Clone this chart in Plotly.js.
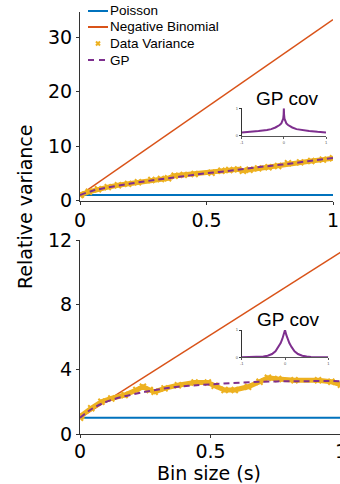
<!DOCTYPE html>
<html>
<head>
<meta charset="utf-8">
<script src="https://cdn.plot.ly/plotly-3.0.1.min.js"></script>
<style>
html,body{margin:0;padding:0;overflow:hidden;background:#fff;width:340px;height:484px;}
#chart{width:350px;height:484px;}
</style>
</head>
<body>
<div id="chart"></div>
<script>
// ---- data ----
const seriesNames = ["Poisson", "Negative Binomial", "Data Variance", "GP"];
const xTicks = [0, 0.5, 1];
const xTickText = ["0", "0.5", "1"];
const topYTicks = [0, 10, 20, 30];
const botYTicks = [0, 4, 8, 12];

const lineX = [0, 1];
const poissonY = [1, 1];
const topNegBinY = [1, 33.2];
const botNegBinY = [1, 11.26];

const topDataX = [0, 0.004, 0.035, 0.071, 0.11, 0.15, 0.19, 0.229, 0.282, 0.32, 0.348, 0.374, 0.41, 0.453, 0.52, 0.559, 0.59, 0.625, 0.644, 0.67, 0.704, 0.745, 0.783, 0.822, 0.87, 0.914, 0.96, 1.0];
const topDataY = [1.0, 1.1, 1.6, 2.05, 2.45, 2.79, 3.05, 3.34, 3.76, 3.95, 4.07, 4.55, 4.7, 4.86, 5.1, 5.47, 5.6, 5.72, 5.47, 5.65, 5.9, 6.1, 6.33, 6.83, 7.0, 7.25, 7.5, 7.74];
const topGPX = [0, 0.05, 0.1, 0.2, 0.3, 0.4, 0.5, 0.6, 0.7, 0.8, 0.9, 1.0];
const topGPY = [1.0, 1.8, 2.3, 3.1, 3.8, 4.4, 5.0, 5.5, 6.1, 6.6, 7.2, 7.8];

const botDataX = [0, 0.005, 0.043, 0.082, 0.12, 0.171, 0.216, 0.241, 0.267, 0.286, 0.324, 0.375, 0.439, 0.49, 0.516, 0.554, 0.593, 0.644, 0.688, 0.72, 0.759, 0.822, 0.912, 0.963, 1.0];
const botDataY = [1.0, 1.13, 1.59, 2.0, 2.2, 2.41, 2.72, 2.92, 2.72, 2.61, 2.82, 3.02, 3.19, 3.19, 2.98, 2.72, 2.72, 2.92, 3.23, 3.48, 3.4, 3.33, 3.33, 3.23, 3.05];
const botGPX = [0, 0.05, 0.12, 0.25, 0.375, 0.5, 0.69, 0.88, 1.0];
const botGPY = [1.0, 1.6, 2.1, 2.61, 2.92, 3.07, 3.23, 3.27, 3.27];

const topCovTau = [-1, -0.8, -0.6, -0.4, -0.3, -0.2, -0.15, -0.1, -0.06, -0.03, -0.015, -0.005, 0, 0.005, 0.015, 0.03, 0.06, 0.1, 0.15, 0.2, 0.3, 0.4, 0.6, 0.8, 1];
const topCov = [0.12, 0.14, 0.17, 0.21, 0.24, 0.3, 0.34, 0.39, 0.45, 0.53, 0.62, 0.78, 1.0, 0.78, 0.62, 0.53, 0.45, 0.39, 0.34, 0.3, 0.24, 0.21, 0.17, 0.14, 0.12];
const botCovTau = [-1, -0.8, -0.6, -0.5, -0.4, -0.3, -0.22, -0.15, -0.1, -0.06, -0.03, 0, 0.03, 0.06, 0.1, 0.15, 0.22, 0.3, 0.4, 0.5, 0.6, 0.8, 1];
const botCov = [0.0, 0.002, 0.01, 0.03, 0.06, 0.12, 0.22, 0.38, 0.52, 0.68, 0.82, 1.0, 0.82, 0.68, 0.52, 0.38, 0.22, 0.12, 0.06, 0.03, 0.01, 0.002, 0.0];
const covTicks = [-1, 0, 1];
const covTickText = ["-1", "0", "1"];

// ---- styling ----
const W = 350, H = 484;
const px = x => x / W;
const py = y => 1 - y / H;
const BLUE = "#0072BD", ORANGE = "#D95319", YELLOW = "#EDB120", PURPLE = "#7E2F8E";
const TICKFONT = {family: "DejaVu Sans", size: 19, color: "#000"};
const LEGFONT = {family: "Liberation Sans, Arial, sans-serif", size: 13.5, color: "#000"};

function panelTraces(xa, ya, nb, dx, dy, gx, gy) {
  return [
    {x: lineX, y: poissonY, xaxis: xa, yaxis: ya, mode: "lines", name: seriesNames[0], line: {color: BLUE, width: 2}, showlegend: false},
    {x: lineX, y: nb, xaxis: xa, yaxis: ya, mode: "lines", name: seriesNames[1], line: {color: ORANGE, width: 1.5}, showlegend: false},
    {x: dx, y: dy, xaxis: xa, yaxis: ya, mode: "lines+markers", name: seriesNames[2], line: {color: YELLOW, width: 5},
     marker: {symbol: "x-thin", size: 6, color: YELLOW, line: {color: YELLOW, width: 2}}, showlegend: false},
    {x: gx, y: gy, xaxis: xa, yaxis: ya, mode: "lines", name: seriesNames[3], line: {color: PURPLE, width: 2, dash: "6px,4px", shape: "spline"}, showlegend: false}
  ];
}

const traces = [].concat(
  panelTraces("x", "y", topNegBinY, topDataX, topDataY, topGPX, topGPY),
  panelTraces("x2", "y2", botNegBinY, botDataX, botDataY, botGPX, botGPY),
  [
    {x: topCovTau, y: topCov, xaxis: "x3", yaxis: "y3", mode: "lines", name: "GP cov", line: {color: PURPLE, width: 2}, showlegend: false},
    {x: botCovTau, y: botCov, xaxis: "x4", yaxis: "y4", mode: "lines", name: "GP cov", line: {color: PURPLE, width: 2}, showlegend: false}
  ]
);

const mainX = {
  range: [0, 1], tickvals: xTicks, ticktext: xTickText, ticks: "outside", ticklen: 3, tickcolor: "#333",
  showline: true, linecolor: "#333", linewidth: 1, showgrid: false, zeroline: false, tickfont: TICKFONT, fixedrange: true
};
const mainY = {
  ticks: "outside", ticklen: 3, tickcolor: "#333",
  showline: true, linecolor: "#333", linewidth: 1, showgrid: false, zeroline: false, tickfont: TICKFONT, fixedrange: true
};
const insetX = {
  range: [-1, 1], tickvals: covTicks, ticktext: covTickText, ticks: "outside", ticklen: 2, tickcolor: "#555",
  showline: true, linecolor: "#555", linewidth: 1, showgrid: false, zeroline: false,
  tickfont: {family: "Liberation Sans", size: 4, color: "#555"}
};
const insetY = {
  range: [0, 1.0], tickvals: [0, 1], ticktext: ["0", "1"], ticks: "outside", ticklen: 2, tickcolor: "#333",
  showline: true, linecolor: "#333", linewidth: 1, showgrid: false, zeroline: false,
  tickfont: {family: "Liberation Sans", size: 4, color: "#555"}
};

const layout = {
  width: W, height: H,
  margin: {l: 0, r: 0, t: 0, b: 0},
  paper_bgcolor: "#fff", plot_bgcolor: "rgba(0,0,0,0)",
  showlegend: false,
  xaxis: Object.assign({}, mainX, {domain: [px(80), px(333)], anchor: "y"}),
  yaxis: Object.assign({}, mainY, {domain: [py(200.5), py(12)], range: [0, 34.6], tickvals: topYTicks, anchor: "x"}),
  xaxis2: Object.assign({}, mainX, {domain: [px(80), px(341)], anchor: "y2", ticklabelstandoff: -3}),
  yaxis2: Object.assign({}, mainY, {domain: [py(434), py(240)], range: [0, 12], tickvals: botYTicks, anchor: "x2"}),
  xaxis3: Object.assign({}, insetX, {domain: [px(241.7), px(326)], anchor: "y3"}),
  yaxis3: Object.assign({}, insetY, {domain: [py(135.7), py(108.3)], anchor: "x3"}),
  xaxis4: Object.assign({}, insetX, {domain: [px(241.7), px(328.3)], anchor: "y4"}),
  yaxis4: Object.assign({}, insetY, {domain: [py(357.3), py(330)], anchor: "x4"}),
  annotations: [
    {text: "Relative variance", textangle: -90, xref: "paper", yref: "paper", x: px(25), y: py(207),
     xanchor: "center", yanchor: "middle", showarrow: false, font: TICKFONT},
    {text: "Bin size (s)", xref: "paper", yref: "paper", x: px(209), y: py(473),
     xanchor: "center", yanchor: "middle", showarrow: false, font: TICKFONT},
    {text: "GP cov", xref: "paper", yref: "paper", x: px(287), y: py(98.5), xanchor: "center", yanchor: "middle",
     showarrow: false, font: {family: "Liberation Sans, Arial, sans-serif", size: 19, color: "#000"}},
    {text: "GP cov", xref: "paper", yref: "paper", x: px(288), y: py(319), xanchor: "center", yanchor: "middle",
     showarrow: false, font: {family: "Liberation Sans, Arial, sans-serif", size: 19, color: "#000"}},
    {text: seriesNames[0], xref: "paper", yref: "paper", x: px(108), y: py(11), xanchor: "left", yanchor: "middle", showarrow: false, font: LEGFONT},
    {text: seriesNames[1], xref: "paper", yref: "paper", x: px(108), y: py(27), xanchor: "left", yanchor: "middle", showarrow: false, font: LEGFONT},
    {text: seriesNames[2], xref: "paper", yref: "paper", x: px(108), y: py(43.5), xanchor: "left", yanchor: "middle", showarrow: false, font: LEGFONT},
    {text: seriesNames[3], xref: "paper", yref: "paper", x: px(108), y: py(60), xanchor: "left", yanchor: "middle", showarrow: false, font: LEGFONT}
  ],
  shapes: [
    {type: "line", xref: "paper", yref: "paper", x0: px(88), x1: px(108), y0: py(11), y1: py(11), line: {color: BLUE, width: 2}},
    {type: "line", xref: "paper", yref: "paper", x0: px(88), x1: px(108), y0: py(27), y1: py(27), line: {color: ORANGE, width: 2}},
    {type: "line", xref: "paper", yref: "paper", x0: px(96), x1: px(100), y0: py(41.5), y1: py(45.5), line: {color: YELLOW, width: 2}},
    {type: "line", xref: "paper", yref: "paper", x0: px(96), x1: px(100), y0: py(45.5), y1: py(41.5), line: {color: YELLOW, width: 2}},
    {type: "line", xref: "paper", yref: "paper", x0: px(88), x1: px(106), y0: py(60), y1: py(60), line: {color: PURPLE, width: 2, dash: "6px,5px"}}
  ]
};

Plotly.newPlot("chart", traces, layout, {displayModeBar: false, staticPlot: true});
</script>
</body>
</html>
